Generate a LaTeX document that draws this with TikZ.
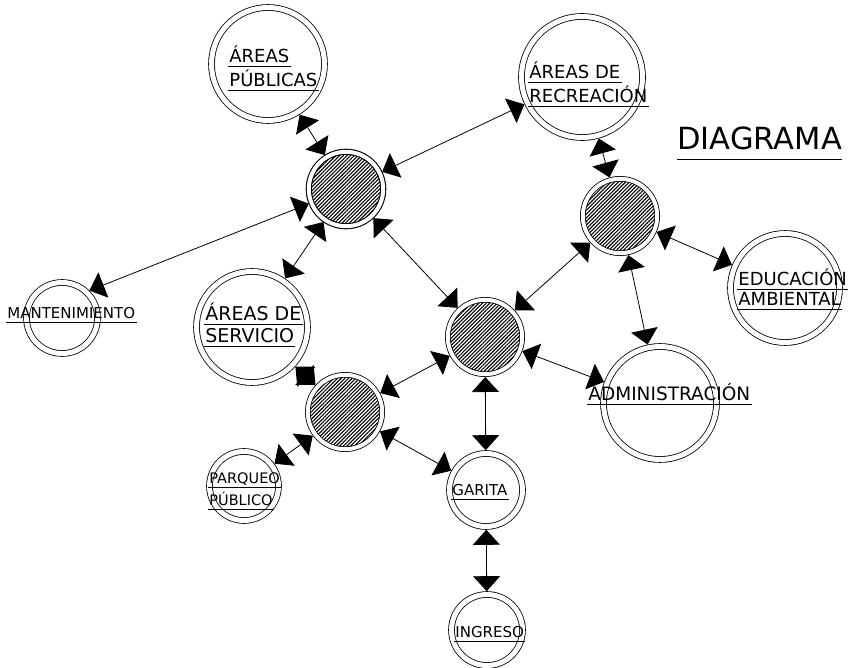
\documentclass[tikz,border=0pt]{standalone}
\usepackage{fontspec}
\setmainfont{DejaVu Sans}
\usetikzlibrary{arrows.meta,patterns.meta}

\begin{document}
\begin{tikzpicture}[x=1pt,y=-1pt,>={Triangle[length=15pt,width=27pt]},line width=0.8pt,
        place/.style={circle,draw,double,double distance=5pt,inner sep=0pt,outer sep=3.3pt,fill=white},
        hub/.style={circle,draw,double,double distance=4pt,inner sep=0pt,outer sep=2.8pt,minimum size=74.4pt,
            pattern={Lines[angle=45,distance=2.6pt,line width=1.1pt]}},
        lbl/.style={anchor=base west,inner xsep=1pt,inner ysep=3.5pt,text depth=0pt,font=\fontsize{18}{18}\selectfont},
        small/.style={lbl,font=\fontsize{15}{15}\selectfont}]
        \useasboundingbox[fill=white] (0,0) rectangle (848,668);
        % zonas
        \node[place,minimum size=113pt] (publicas) at (268,64) {};
        \node[place,minimum size=121pt] (recreacion) at (582,77) {};
        \node[place,minimum size=109pt] (educacion) at (785,288) {};
        \node[place,minimum size=71pt] (mantenimiento) at (62,318) {};
        \node[place,minimum size=111pt] (servicio) at (252,327) {};
        \node[place,minimum size=113pt] (administracion) at (660,403) {};
        \node[place,minimum size=69pt] (parqueo) at (244,486) {};
        \node[place,minimum size=73pt] (garita) at (486,490) {};
        \node[place,minimum size=71pt] (ingreso) at (487,630) {};
        % nodos de distribucion
        \node[hub] (hubnw) at (346,189) {};
        \node[hub] (hubne) at (620,216) {};
        \node[hub] (hubc) at (485,337) {};
        \node[hub] (hubsw) at (345,412) {};
        % conexiones
        \draw[<->] (publicas) -- (hubnw);
        \draw[<->] (recreacion) -- (hubnw);
        \draw[<->] (recreacion) -- (hubne);
        \draw[<->] (hubne) -- (educacion);
        \draw[<->] (hubne) -- (administracion);
        \draw[<->] (hubne) -- (hubc);
        \draw[<->] (hubnw) -- (mantenimiento.45);
        \draw[<->] (hubnw) -- (servicio);
        \draw[<->] (hubnw) -- (hubc);
        \draw[<->] (hubc) -- (administracion);
        \draw[<->] (hubc) -- (hubsw);
        \draw[<->] (hubc) -- (garita);
        \draw[<->] (servicio) -- (hubsw);
        \draw[<->] (hubsw) -- (parqueo);
        \draw[<->] (hubsw) -- (garita);
        \draw[<->] (garita) -- (ingreso);
        % textos
        \node[lbl] (publicasA) at (228,63) {ÁREAS};
        \node[lbl] (publicasB) at (228,87) {PÚBLICAS};
        \node[lbl] (recreacionA) at (528,79) {ÁREAS DE};
        \node[lbl] (recreacionB) at (528,103) {RECREACIÓN};
        \node[lbl] (educacionA) at (737,285) {EDUCACIÓN};
        \node[lbl] (educacionB) at (737,305) {AMBIENTAL};
        \node[small] (mantenimientoA) at (6,318) {MANTENIMIENTO};
        \node[lbl,font=\fontsize{19}{19}\selectfont] (servicioA) at (204,320) {ÁREAS DE};
        \node[lbl,font=\fontsize{19}{19}\selectfont] (servicioB) at (204,342) {SERVICIO};
        \node[lbl,font=\fontsize{18.5}{18.5}\selectfont] (administracionA) at (587,400) {ADMINISTRACIÓN};
        \node[small,font=\fontsize{14.5}{14.5}\selectfont] (parqueoA) at (208,483) {PARQUEO};
        \node[small,font=\fontsize{14.5}{14.5}\selectfont] (parqueoB) at (208,505) {PÚBLICO};
        \node[small] (garitaA) at (451,495) {GARITA};
        \node[small] (ingresoA) at (454,637) {INGRESO};
        \node[lbl,inner xsep=0pt,inner ysep=9pt,font=\fontsize{30.5}{30.5}\selectfont] (titulo) at (677,150) {DIAGRAMA};
        \foreach \n in {publicasA,publicasB,recreacionA,recreacionB,educacionA,educacionB,mantenimientoA,
            servicioA,servicioB,administracionA,parqueoA,parqueoB,garitaA,ingresoA,titulo}
            \draw (\n.south west) -- (\n.south east);
    \end{tikzpicture}
\end{document}
